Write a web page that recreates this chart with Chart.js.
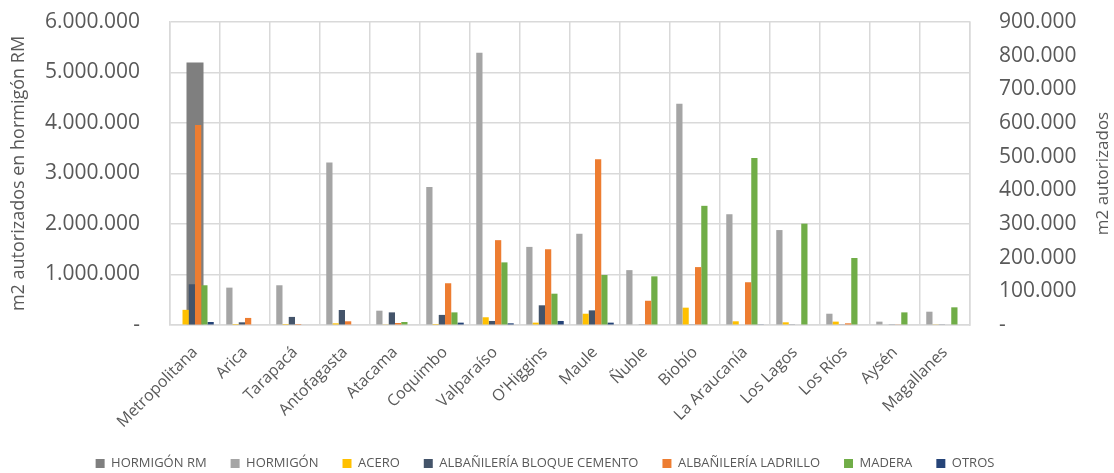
<!DOCTYPE html>
<html>
<head>
<meta charset="utf-8">
<script src="https://cdn.jsdelivr.net/npm/chart.js@4"></script>
<style>
  body { margin: 0; background: #ffffff; }
  #wrap { width: 1114px; height: 473px; position: relative; }
</style>
</head>
<body>
<div id="wrap"><canvas id="materialChart"></canvas></div>
<script>
// DATA

const regiones = [
    "Metropolitana", "Arica", "Tarapacá", "Antofagasta", "Atacama",
    "Coquimbo", "Valparaíso", "O'Higgins", "Maule", "Ñuble",
    "Biobío", "La Araucanía", "Los Lagos", "Los Ríos", "Aysén", "Magallanes"
];

const hormigonRM = [5200000, null, null, null, null, null, null, null, null, null, null, null, null, null, null, null];

const hormigon = [0, 111000, 118000, 483000, 42500, 410000, 809000, 232000, 271000, 163000, 657000, 329000, 282000, 33500, 10000, 39500];

const acero = [45000, 3000, 3000, 5000, 2000, 3000, 23000, 7000, 33500, 1500, 51500, 11000, 8000, 10000, 1500, 2000];

const bloqueCemento = [121000, 8000, 24000, 44500, 37500, 30000, 12000, 58500, 43500, 1000, 1000, 1500, 1000, 1000, 1000, 1000];

const ladrillo = [594000, 21000, 3000, 11000, 6000, 124000, 252000, 225000, 492000, 72000, 172000, 127000, 1500, 5000, 1000, 1500];

const madera = [118000, 0, 0, 0, 9000, 37500, 186000, 93000, 148500, 144500, 354000, 496000, 301000, 199000, 37500, 52500];

const otros = [9000, 0, 0, 0, 0, 7000, 5000, 12000, 7000, 0, 0, 1000, 0, 0, 0, 0];

// axis ranges
const leftMax = 6000000;
const leftStep = 1000000;
const rightMax = 900000;
const rightStep = 100000;


// HELPERS

const textColor = "#595959";
const gridColor = "#D9D9D9";
const fontFamily = "'Open Sans', 'Noto Sans', sans-serif";

function formatMiles(value) {
    if (value === 0) return "-";
    return String(value).replace(/\B(?=(\d{3})+(?!\d))/g, ".");
}

function serie(label, data, color) {
    return {
        label: label,
        data: data,
        backgroundColor: color,
        borderWidth: 0,
        yAxisID: "y1",
        order: 0
    };
}

// right title reads bottom-to-top like the left one
const rightTitle = {
    id: "rightTitle",
    afterDraw(chart) {
        const c = chart.ctx;
        const area = chart.chartArea;
        c.save();
        c.translate(1103, (area.top + area.bottom) / 2);
        c.rotate(-Math.PI / 2);
        c.font = "17px " + fontFamily;
        c.fillStyle = textColor;
        c.textAlign = "center";
        c.textBaseline = "middle";
        c.fillText("m2 autorizados", 0, 0);
        c.restore();
    }
};


// GRAPH

const ctx = document.getElementById("materialChart");

new Chart(ctx, {

    type: "bar",

    data: {

        labels: regiones,

        datasets: [
            {
                label: "HORMIGÓN RM",
                data: hormigonRM,
                backgroundColor: "#7F7F7F",
                borderWidth: 0,
                yAxisID: "y",
                grouped: false,
                categoryPercentage: 1,
                barPercentage: 0.34,
                order: 1
            },
            serie("HORMIGÓN", hormigon, "#A5A5A5"),
            serie("ACERO", acero, "#FFC000"),
            serie("ALBAÑILERÍA BLOQUE CEMENTO", bloqueCemento, "#44546A"),
            serie("ALBAÑILERÍA LADRILLO", ladrillo, "#ED7D31"),
            serie("MADERA", madera, "#70AD47"),
            serie("OTROS", otros, "#264478")
        ]
    },

    options: {

        responsive: true,

        maintainAspectRatio: false,

        animation: false,

        categoryPercentage: 0.75,

        barPercentage: 1,

        layout: {
            padding: { top: 22, left: 0, right: 24, bottom: 0 }
        },

        plugins: {
            tooltip: { enabled: false },
            legend: {
                position: "bottom",
                maxHeight: 40,
                labels: {
                    boxWidth: 9,
                    boxHeight: 9,
                    padding: 24,
                    color: textColor,
                    font: { family: fontFamily, size: 13 },
                    sort: (a, b) => a.datasetIndex - b.datasetIndex
                }
            }
        },

        scales: {

            x: {
                grid: { color: gridColor, lineWidth: 1.5, drawTicks: false, offset: true },
                border: { color: gridColor, width: 1.5 },
                ticks: {
                    color: textColor,
                    font: { family: fontFamily, size: 16 },
                    maxRotation: 45,
                    minRotation: 45,
                    padding: 18,
                    autoSkip: false
                },
                afterFit(scale) { scale.height = 108; }
            },

            y: {
                position: "left",
                min: 0,
                max: leftMax,
                // invisible tick marks keep the labels away from the plot
                grid: { color: gridColor, lineWidth: 1.5, tickLength: 30, tickColor: "rgba(0,0,0,0)" },
                border: { color: gridColor, width: 1.5 },
                ticks: {
                    stepSize: leftStep,
                    padding: 0,
                    color: textColor,
                    font: { family: fontFamily, size: 21 },
                    callback: (v) => formatMiles(v)
                },
                title: {
                    display: true,
                    text: "m2 autorizados en hormigón RM",
                    color: textColor,
                    font: { family: fontFamily, size: 18 },
                    padding: { top: 8, bottom: 0 }
                },
                afterFit(scale) { scale.width = 170; }
            },

            y1: {
                position: "right",
                min: 0,
                max: rightMax,
                grid: { drawOnChartArea: false, tickLength: 29, tickColor: "rgba(0,0,0,0)" },
                border: { color: gridColor, width: 1.5 },
                ticks: {
                    stepSize: rightStep,
                    padding: 0,
                    color: textColor,
                    font: { family: fontFamily, size: 21 },
                    callback: (v) => formatMiles(v)
                },
                afterFit(scale) { scale.width = 120; }
            }
        }
    },

    plugins: [rightTitle]
});
</script>
</body>
</html>
